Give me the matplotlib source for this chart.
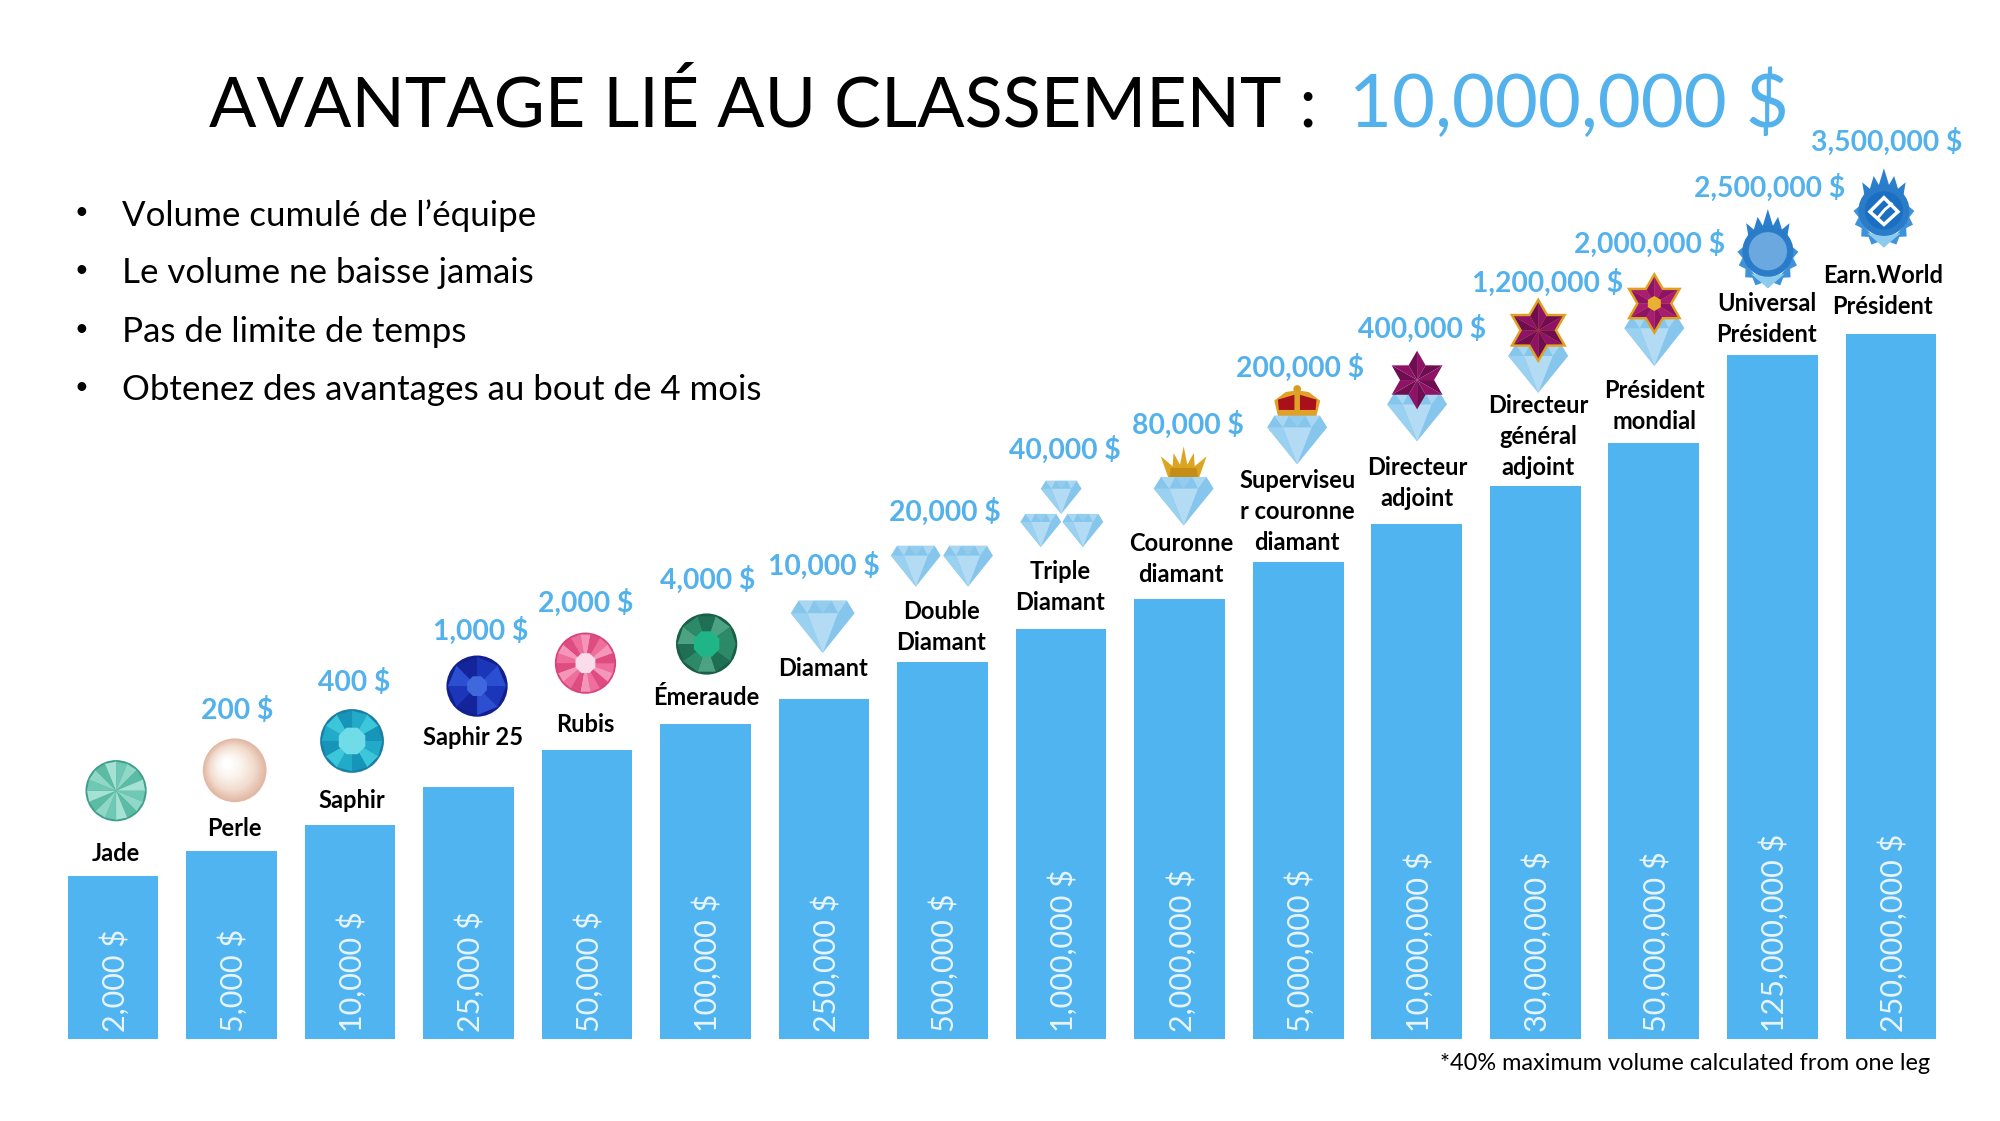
import matplotlib
matplotlib.use("Agg")
import matplotlib.pyplot as plt
from matplotlib.colors import LinearSegmentedColormap
from matplotlib.patches import Circle, Polygon
import numpy as np

plt.rcParams['font.family'] = ['Lato', 'DejaVu Sans']

ranks = ["Jade", "Perle", "Saphir", "Saphir 25", "Rubis", "Émeraude", "Diamant", "Double\nDiamant",
         "Triple\nDiamant", "Couronne\ndiamant", "Superviseu\nr couronne\ndiamant", "Directeur\nadjoint",
         "Directeur\ngénéral\nadjoint", "Président\nmondial", "Universal\nPrésident", "Earn.World\nPrésident"]
# bar heights are not to scale in the original, so they are read off the picture
bar_heights = [128, 148, 168, 198, 227, 247, 267, 296, 322, 345, 374, 404, 434, 468, 537, 553]
volumes = ["2,000 $", "5,000 $", "10,000 $", "25,000 $", "50,000 $", "100,000 $", "250,000 $", "500,000 $",
           "1,000,000 $", "2,000,000 $", "5,000,000 $", "10,000,000 $", "30,000,000 $", "50,000,000 $",
           "125,000,000 $", "250,000,000 $"]
rewards = ["", "200 $", "400 $", "1,000 $", "2,000 $", "4,000 $", "10,000 $", "20,000 $", "40,000 $", "80,000 $",
           "200,000 $", "400,000 $", "1,200,000 $", "2,000,000 $", "2,500,000 $", "3,500,000 $"]
bullets = ["Volume cumulé de l’équipe", "Le volume ne baisse jamais", "Pas de limite de temps",
           "Obtenez des avantages au bout de 4 mois"]

# layout, in pixels of the 1568 wide view
rank_x = [91, 184, 276, 371, 459, 554, 645, 738, 831, 926, 1017, 1111, 1206, 1297, 1385, 1476]
rank_y = [669, 650, 628, 578, 568, 547, 524, 492, 460, 438, 401, 379, 342, 318, 250, 228]
reward_x = [0, 186, 278, 377, 459, 555, 646, 741, 835, 931, 1019, 1115, 1213, 1293, 1387, 1479]
reward_y = [0, 557, 535, 495, 473, 455, 444, 401, 353, 333, 288, 258, 222, 191, 147, 111]
bullet_y = [169, 214, 260, 306]

BLUE = "#4FB4F0"
TEXT_BLUE = "#53B1EC"

fig = plt.figure(figsize=(20, 11.21), dpi=100)
ax = fig.add_axes([0, 0, 1, 1])
ax.set_xlim(-88.5 / 92.93, (1568 - 88.5) / 92.93)
ax.set_ylim(-64, 815)
ax.axis("off")

x = np.arange(len(ranks))
ax.bar(x, bar_heights, width=0.765, color=BLUE, linewidth=0)
for i, v in zip(x, volumes):
    ax.text(i + 0.015, 6, v, rotation=90, ha="center", va="bottom", color="#E8F4FC", fontsize=22)

# overlay for everything placed by eye
px = fig.add_axes([0, 0, 1, 1])
px.set_xlim(0, 1568)
px.set_ylim(879, 0)
px.axis("off")
px.patch.set_alpha(0)


def poly(pts, col, **kw):
    px.add_patch(Polygon(pts, fc=col, ec=kw.pop("ec", "none"), **kw))


def ring(cx, cy, r, n, start=0.0):
    a = np.linspace(0, 2 * np.pi, n, endpoint=False) + start
    return [(cx + r * np.cos(t), cy + r * np.sin(t)) for t in a]


def round_gem(cx, cy, r, cols, n=12, core=None, core_r=0.4):
    px.add_patch(Circle((cx, cy), r, fc=cols[0], ec="none"))
    rim = ring(cx, cy, r * 0.95, n)
    for k in range(n):
        poly([(cx, cy), rim[k], rim[(k + 1) % n]], cols[1 + k % (len(cols) - 1)])
    if core:
        poly(ring(cx, cy, r * core_r, 8, np.pi / 8), core)


def pearl(cx, cy, r):
    cmap = LinearSegmentedColormap.from_list("p", ["#E2B8A4", "#F1DCCF", "#FAF1EA", "#FFFFFF"])
    for f, c in zip(np.linspace(1, 0.15, 16), cmap(np.linspace(0, 1, 16))):
        px.add_patch(Circle((cx - (1 - f) * 7, cy - (1 - f) * 6), r * f, fc=c, ec="none"))


def diamond(cx, top, w, h):
    t = top + 0.24 * h
    poly([(cx - w * 0.38, top), (cx + w * 0.38, top), (cx + w / 2, t), (cx, top + h), (cx - w / 2, t)], "#86C6EC")
    poly([(cx - w * 0.24, t), (cx + w * 0.24, t), (cx, top + h)], "#B3DCF4")
    poly([(cx - w * 0.38, top), (cx - w * 0.14, top), (cx - w * 0.24, t)], "#A9D7F2")
    poly([(cx + w * 0.38, top), (cx + w * 0.14, top), (cx + w * 0.24, t)], "#A9D7F2")
    poly([(cx - w * 0.14, top), (cx + w * 0.14, top), (cx, t)], "#94CCEE")
    poly([(cx - w / 2, t), (cx - w * 0.24, t), (cx, top + h)], "#9BD1F0")


def gold_crown(cx, top, w, h):
    b = top + h
    poly([(cx - w * 0.32, b), (cx - w / 2, top + h * 0.3), (cx - w * 0.24, top + h * 0.6), (cx - w * 0.22, top + h * 0.2),
          (cx - w * 0.08, top + h * 0.55), (cx, top), (cx + w * 0.08, top + h * 0.55), (cx + w * 0.22, top + h * 0.2),
          (cx + w * 0.24, top + h * 0.6), (cx + w / 2, top + h * 0.3), (cx + w * 0.32, b)], "#DBA522")
    poly([(cx - w * 0.32, b), (cx - w * 0.28, top + h * 0.65), (cx + w * 0.28, top + h * 0.65), (cx + w * 0.32, b)], "#C48D16")


def red_crown(cx, top, w, h):
    b = top + h
    px.add_patch(Circle((cx, top + 3), 3, fc="#D99A22", ec="none"))
    poly([(cx - w * 0.4, b), (cx - w * 0.5, top + h * 0.45), (cx - w * 0.25, top + h * 0.2), (cx, top + h * 0.15),
          (cx + w * 0.25, top + h * 0.2), (cx + w * 0.5, top + h * 0.45), (cx + w * 0.4, b)], "#E0A126")
    poly([(cx - w * 0.4, top + h * 0.72), (cx - w * 0.42, top + h * 0.42), (cx - w * 0.06, top + h * 0.28),
          (cx - w * 0.06, top + h * 0.72)], "#A8101C")
    poly([(cx + w * 0.4, top + h * 0.72), (cx + w * 0.42, top + h * 0.42), (cx + w * 0.06, top + h * 0.28),
          (cx + w * 0.06, top + h * 0.72)], "#A8101C")


def star(cx, cy, r, dark, light, edge=None, core=None):
    outer = ring(cx, cy, r, 6, -np.pi / 2)
    inner = ring(cx, cy, r * 0.58, 6, -np.pi / 2 + np.pi / 6)
    outline = [p for pair in zip(outer, inner) for p in pair]
    if edge:
        poly(outline, edge, ec=edge, lw=3.5, joinstyle="miter")
    for k in range(6):
        poly([(cx, cy), outer[k], inner[k]], dark)
        poly([(cx, cy), inner[k], outer[(k + 1) % 6]], light)
    if core:
        poly(ring(cx, cy, r * 0.28, 6, np.pi / 6), core)


def emblem(cx, cy, inner, white=False):
    # crown spikes
    poly([(cx - 15, cy - 8), (cx - 17, cy - 20), (cx - 11, cy - 15), (cx - 8, cy - 25), (cx - 4, cy - 18), (cx, cy - 31),
          (cx + 4, cy - 18), (cx + 8, cy - 25), (cx + 11, cy - 15), (cx + 17, cy - 20), (cx + 15, cy - 8)], "#2C7FCC")
    # wreath round the lower part
    for t in np.linspace(-0.1, np.pi + 0.1, 9):
        a = cx + 17 * np.cos(t)
        b = cy + 5 + 19 * np.sin(t)
        poly([(a - 7 * np.sin(t), b + 7 * np.cos(t)), (a + 7 * np.cos(t), b + 7 * np.sin(t)),
              (a + 7 * np.sin(t), b - 7 * np.cos(t))], "#3E92DA")
    poly([(cx - 13, cy + 20), (cx, cy + 31), (cx + 13, cy + 20)], "#8CCBEE")
    px.add_patch(Circle((cx, cy + 2), 20, fc="#2B7CC8", ec="none"))
    px.add_patch(Circle((cx, cy + 2), 15, fc=inner, ec="none"))
    if white:
        poly([(cx, cy - 8), (cx + 11, cy + 3), (cx, cy + 13), (cx - 11, cy + 3)], "none", ec="white", lw=2.5)
        px.plot([cx - 5, cx + 1, cx + 6], [cy + 8, cy + 1, cy - 3], color="white", lw=2)


round_gem(91, 620, 24, ["#3F9F8C", "#6FC8B4", "#8FD8C7", "#5CBBA5", "#A6E2D3"], n=16)
pearl(184, 604, 25)
round_gem(276, 581, 25, ["#1A7FA6", "#21ABC8", "#3CC6DA", "#1795B8"], n=12, core="#6FDCE8", core_r=0.45)
round_gem(374, 538, 24, ["#12208F", "#1B36B8", "#2B4FD0", "#14259C"], n=8, core="#3E68DC", core_r=0.35)
round_gem(459, 520, 24, ["#D8437C", "#EE6F9C", "#F595B8", "#DE4C82"], n=18, core="#FBDDEA", core_r=0.35)
round_gem(554, 505, 24, ["#1A5E47", "#2C8A68", "#1F6F54", "#4BA384"], n=10, core="#1FB587", core_r=0.45)

diamond(645, 471, 50, 41)
diamond(718, 428, 39, 32)
diamond(759, 428, 39, 32)
diamond(832, 377, 32, 26)
diamond(816, 403, 32, 26)
diamond(849, 403, 32, 26)
gold_crown(928, 350, 36, 26)
diamond(928, 374, 47, 38)
red_crown(1017, 302, 36, 27)
diamond(1017, 326, 47, 38)
diamond(1111, 308, 47, 38)
star(1111, 298, 23, "#8E1265", "#6E0E50")
diamond(1206, 270, 47, 38)
star(1206, 259, 22, "#8E1265", "#6E0E50", edge="#E0A020")
diamond(1297, 248, 47, 39)
star(1297, 238, 21, "#A81C72", "#8E1265", edge="#E0A020", core="#E8B22E")
emblem(1386, 195, "#6BA8E0")
emblem(1477, 163, "#1B6FC2", white=True)

# title in two colours
px.text(164, 83, "AVANTAGE LIÉ AU CLASSEMENT :", ha="left", va="center", color="black", fontsize=50.5)
px.text(1058, 82, "10,000,000 $", ha="left", va="center", color=TEXT_BLUE, fontsize=53.5)

for b, y in zip(bullets, bullet_y):
    px.text(64, y - 2, "•", ha="center", va="center", color="black", fontsize=17)
    px.text(96, y, b, ha="left", va="center", color="black", fontsize=25.1)

for r, rx, ry in zip(ranks, rank_x, rank_y):
    px.text(rx, ry, r, ha="center", va="center", multialignment="center", color="black", fontsize=17,
            fontweight="bold", linespacing=1.42)

for r, rx, ry in zip(rewards, reward_x, reward_y):
    if r:
        px.text(rx, ry, r, ha="center", va="center", color=TEXT_BLUE, fontsize=20.3, fontweight="bold")

px.text(1513, 834, "*40% maximum volume calculated from one leg", ha="right", va="center", color="black", fontsize=16.9)

fig.savefig("out.png", dpi=100)
